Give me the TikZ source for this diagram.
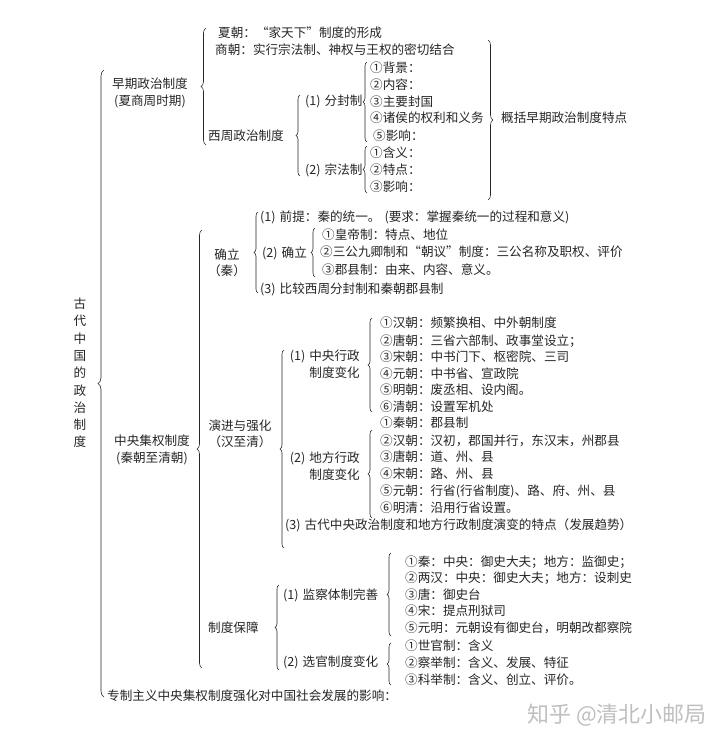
\documentclass[tikz,border=0pt]{standalone}
\usepackage{fontspec}
\setmainfont{Noto Sans CJK SC}
\usetikzlibrary{decorations.pathreplacing}

\newcommand{\gap}{\hspace{4pt}}

\tikzset{
  txt/.style={anchor=west, inner sep=0pt, font=\fontsize{12.6}{16.5}\selectfont},
  blk/.style={txt, anchor=center, align=center},
  brc/.style={decorate, decoration={brace, amplitude=#1}, line width=0.6pt},
  brc/.default=4pt
}

\begin{document}
\begin{tikzpicture}[x=1pt, y=-1pt, color=black!85]

  \useasboundingbox [fill=white] (0,0) rectangle (720,745);

  % root
  \node [blk, font=\fontsize{12.6}{17.3}\selectfont] (root) at (80,373)
    {古\\代\\中\\国\\的\\政\\治\\制\\度};
  \draw [brc=6pt] (104,697) -- (104,70);

  % early period
  \node [blk] (early) at (150,93) {早期政治制度\\(夏商周时期)};
  \draw [brc=5pt] (206,145) -- (206,28);
  \node [txt] (xia) at (218,33) {夏朝：“家天下”制度的形成};
  \node [txt] (shang) at (215,50) {商朝：实行宗法制、神权与王权的密切结合};
  \node [txt] (xizhou) at (208,136) {西周政治制度};
  \draw [brc] (300,176) -- (300,95);
  \node [txt] (fenfeng) at (305,101) {(1)\gap 分封制};
  \node [txt] (zongfa) at (305,170) {(2)\gap 宗法制};

  \draw [brc] (367,142) -- (367,62);
  \foreach \y/\t [count=\i] in {68/①背景：, 85/②内容：, 102/③主要封国,
      118/④诸侯的权利和义务}
    \node [txt] (ff-\i) at (370,\y) {\t};
  \node [txt] (ff-5) at (373,136) {⑤影响：};

  \draw [brc] (367,193) -- (367,146);
  \foreach \y/\t [count=\i] in {153/①含义：, 170/②特点：, 187/③影响：}
    \node [txt] (zf-\i) at (370,\y) {\t};

  \draw [brc=5pt] (488,40) -- (488,200);
  \node [txt] (gaikuo) at (501,118) {概括早期政治制度特点};

  % centralised system
  \node [blk] (central) at (152,450) {中央集权制度\\(秦朝至清朝)};
  \draw [brc=5pt] (202,668) -- (202,230);

  % establishment
  \node [blk] (queli) at (227,263) {确立\\（秦）};
  \draw [brc] (258,293) -- (258,212);
  \node [txt] (qianti) at (260,217) {(1)\gap 前提：秦的统一。\gap(要求：掌握秦统一的过程和意义)};
  \node [txt] (queli2) at (262,253) {(2)\gap 确立};
  \node [txt] (bijiao) at (260,289) {(3)\gap 比较西周分封制和秦朝郡县制};
  \draw [brc] (315,277) -- (315,228);
  \node [txt] (ql-1) at (322,235) {①皇帝制：特点、地位};
  \node [txt] (ql-2) at (320,252) {②三公九卿制和“朝议”制度：三公名称及职权、评价};
  \node [txt] (ql-3) at (322,270) {③郡县制：由来、内容、意义。};

  % evolution
  \node [blk] (yanjin) at (240,434) {演进与强化\\（汉至清）};
  \draw [brc] (284,548) -- (284,350);
  \node [txt, anchor=east, align=right] (zhongyang) at (360,364)
    {(1)\gap 中央行政\\制度变化};
  \node [txt, anchor=east, align=right] (difang) at (360,466)
    {(2)\gap 地方行政\\制度变化};
  \node [txt] (tedian) at (285,525)
    {(3)\gap 古代中央政治制度和地方行政制度演变的特点（发展趋势）};

  \draw [brc] (372,412) -- (372,318);
  \foreach \y/\t [count=\i] in {323/①汉朝：频繁换相、中外朝制度,
      341/②唐朝：三省六部制、政事堂设立；, 357/③宋朝：中书门下、枢密院、三司,
      374/④元朝：中书省、宣政院, 390/⑤明朝：废丞相、设内阁。,
      407/⑥清朝：设置军机处}
    \node [txt] (zy-\i) at (380,\y) {\t};

  \draw [brc] (372,518) -- (372,430);
  \foreach \y/\t [count=\i] in {423/①秦朝：郡县制,
      441/②汉朝：汉初，郡国并行，东汉末，州郡县, 457/③唐朝：道、州、县,
      474/④宋朝：路、州、县, 491/⑤元朝：行省(行省制度)、路、府、州、县,
      508/⑥明清：沿用行省设置。}
    \node [txt] (df-\i) at (380,\y) {\t};

  % safeguards
  \node [txt] (baozhang) at (208,628) {制度保障};
  \draw [brc] (279,670) -- (279,585);
  \node [txt] (jiancha) at (283,595) {(1)\gap 监察体制完善};
  \node [txt] (xuanguan) at (283,662) {(2)\gap 选官制度变化};

  \draw [brc] (391,636) -- (391,553);
  \foreach \y/\t [count=\i] in {562/①秦：中央：御史大夫；地方：监御史；,
      578/②两汉：中央：御史大夫；地方：设刺史, 595/③唐：御史台,
      611/④宋：提点刑狱司, 628/⑤元明：元朝设有御史台，明朝改都察院}
    \node [txt] (jc-\i) at (405,\y) {\t};

  \draw [brc] (391,685) -- (391,643);
  \foreach \y/\t [count=\i] in {646/①世官制：含义, 663/②察举制：含义、发展、特征,
      680/③科举制：含义、创立、评价。}
    \node [txt] (xg-\i) at (405,\y) {\t};

  % influence
  \node [txt] (yingxiang) at (107,696) {专制主义中央集权制度强化对中国社会发展的影响：};

  \node [txt, font=\fontsize{22}{24}\selectfont, text=black!25] (mark) at (527,715)
    {知乎 @清北小邮局};

\end{tikzpicture}
\end{document}
